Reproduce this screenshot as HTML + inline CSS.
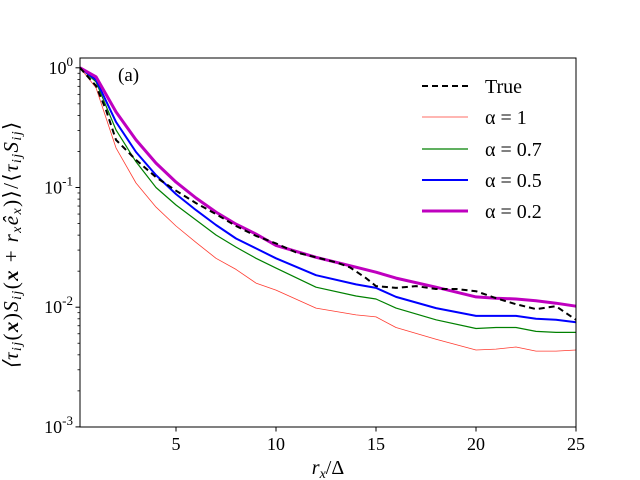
<!DOCTYPE html>
<html><head><meta charset="utf-8"><style>
body{margin:0;background:#fff}
svg{display:block}
text{font-family:"Liberation Serif",serif;fill:#000}
</style></head><body>
<svg id="chart" width="640" height="480" viewBox="0 0 640 480" xmlns="http://www.w3.org/2000/svg">
<g id="axes"></g>
<g id="series"></g>
<rect x="80" y="58" width="496" height="369" fill="none" stroke="#000" stroke-width="1"/>
<text x="118" y="81" font-family="Liberation Sans, sans-serif" font-size="19">(a)</text>
<text x="328" y="474" font-size="20" text-anchor="middle" font-style="italic">r<tspan font-size="14" dy="4">x</tspan><tspan dy="-4" font-style="normal">/Δ</tspan></text>
<text transform="translate(18,245) rotate(-90)" font-size="21" letter-spacing="1.4" text-anchor="middle" font-style="italic">⟨τ<tspan font-size="14" dy="3">ij</tspan><tspan dy="-3" font-style="normal">(</tspan><tspan font-weight="bold">x</tspan><tspan font-style="normal">)</tspan>S<tspan font-size="14" dy="3">ij</tspan><tspan dy="-3" font-style="normal">(</tspan><tspan font-weight="bold">x</tspan><tspan font-style="normal"> + </tspan>r<tspan font-size="14" dy="3">x</tspan><tspan dy="-3">ê</tspan><tspan font-size="14" dy="3">x</tspan><tspan dy="-3" font-style="normal">)⟩/⟨</tspan>τ<tspan font-size="14" dy="3">ij</tspan><tspan dy="-3">S</tspan><tspan font-size="14" dy="3">ij</tspan><tspan dy="-3" font-style="normal">⟩</tspan></text>
<g id="legend"></g>
</svg>
<script>
const xTicks=[5,10,15,20,25];
const yDecades=[0,-1,-2,-3];
const xAll=[0.2,1,2,3,4,5,6,7,8,9,10,12,14,15,16,18,20,21,22,23,24,25];
const a02=[1,0.841,0.428,0.250,0.160,0.111,0.0817,0.0623,0.0495,0.0408,0.0328,0.0261,0.0216,0.0196,0.0175,0.0147,0.0122,0.0119,0.0117,0.0113,0.0108,0.0102];
const a05=[1,0.794,0.353,0.198,0.127,0.088,0.0648,0.0486,0.0375,0.0310,0.0256,0.0185,0.0155,0.0145,0.0122,0.00982,0.00846,0.00846,0.00846,0.0080,0.00785,0.0075];
const a07=[1,0.764,0.303,0.164,0.100,0.0714,0.0535,0.0401,0.0318,0.0256,0.0212,0.0147,0.0124,0.0117,0.00982,0.00785,0.00664,0.00677,0.00677,0.00628,0.00616,0.00616];
const a1=[1,0.680,0.214,0.109,0.0686,0.0477,0.0348,0.0256,0.0207,0.0159,0.0139,0.00982,0.00862,0.00830,0.00677,0.00540,0.00439,0.00447,0.00465,0.00430,0.00430,0.00439];
const xTrue=[0.2,1,1.5,2,3,4,5,6,7,8,9,10,11,12,13,13.7,14.5,15,16,17,18,19,20,21,22,23,24,25];
const yTrue=[1,0.707,0.445,0.250,0.170,0.122,0.094,0.0741,0.0600,0.0477,0.0394,0.0341,0.0287,0.0261,0.0237,0.0215,0.0175,0.0150,0.0145,0.0150,0.0142,0.0142,0.0136,0.0119,0.0106,0.00964,0.0102,0.00785];
const legendLabels=["True","α = 1","α = 0.7","α = 0.5","α = 0.2"];

const NS="http://www.w3.org/2000/svg";
const X0=80,X1=576,XMIN=0.2,XMAX=25;
const Y1=67.8,DEC=119.7;
function sx(v){return X0+(v-XMIN)/(XMAX-XMIN)*(X1-X0);}
function sy(v){return Y1-Math.log10(v)*DEC;}
function mk(tag,attrs,parent){const e=document.createElementNS(NS,tag);for(const k in attrs)e.setAttribute(k,attrs[k]);parent.appendChild(e);return e;}
const axes=document.getElementById('axes');
xTicks.forEach(t=>{
  const l=mk('line',{x1:sx(t),x2:sx(t),y1:427,y2:431.5,stroke:'#000'},axes);
  
  
  const tx=mk('text',{x:sx(t),y:450,'font-size':18,'text-anchor':'middle'},axes);
  tx.textContent=t;
  
  
});
yDecades.forEach(d=>{
  const y=sy(Math.pow(10,d));
  const l=mk('line',{x1:75.5,x2:80,y1:y,y2:y,stroke:'#000'},axes);
  
  
  const tx=mk('text',{x:73,y:y+6,'font-size':18,'text-anchor':'end'},axes);
  tx.innerHTML='10<tspan font-size="13" dy="-8">'+d+'</tspan>';
  
  
  if(d>-3){for(let m=2;m<10;m++){const ym=sy(m*Math.pow(10,d-1));
    const ml=mk('line',{x1:77.5,x2:80,y1:ym,y2:ym,stroke:'#000','stroke-width':0.8},axes);
    
    }}
});
const series=document.getElementById('series');
function line(xs,ys,color,w,dash,name){
  const d=xs.map((x,i)=>(i?'L':'M')+sx(x).toFixed(1)+','+sy(ys[i]).toFixed(1)).join('');
  const p=mk('path',{d:d,fill:'none',stroke:color,'stroke-width':w,'stroke-linejoin':'round'},series);
  if(dash)p.setAttribute('stroke-dasharray',dash);
  
  
}
line(xAll,a1,'#ff3b30',0.8,null,'series-alpha-1');
line(xAll,a07,'#008000',1.2,null,'series-alpha-0.7');
line(xAll,a05,'#0000ff',2,null,'series-alpha-0.5');
line(xAll,a02,'#bf00bf',3,null,'series-alpha-0.2');
line(xTrue,yTrue,'#000',2,'6,4','series-true');
const lg=document.getElementById('legend');
const styles=[['#000',2,'6,4'],['#ff3b30',0.8,null],['#008000',1.2,null],['#0000ff',2,null],['#bf00bf',3,null]];
const ly=[86,117,149,180,211];
legendLabels.forEach((s,i)=>{
  const l=mk('line',{x1:422,x2:468,y1:ly[i],y2:ly[i],stroke:styles[i][0],'stroke-width':styles[i][1]},lg);
  if(styles[i][2])l.setAttribute('stroke-dasharray',styles[i][2]);
  
  
  const t=mk('text',{x:485,y:ly[i]+7,'font-size':20},lg);
  if(i==0)t.setAttribute('font-family','Liberation Sans, sans-serif');
  t.textContent=s;
  
  
});
</script>
</body></html>
